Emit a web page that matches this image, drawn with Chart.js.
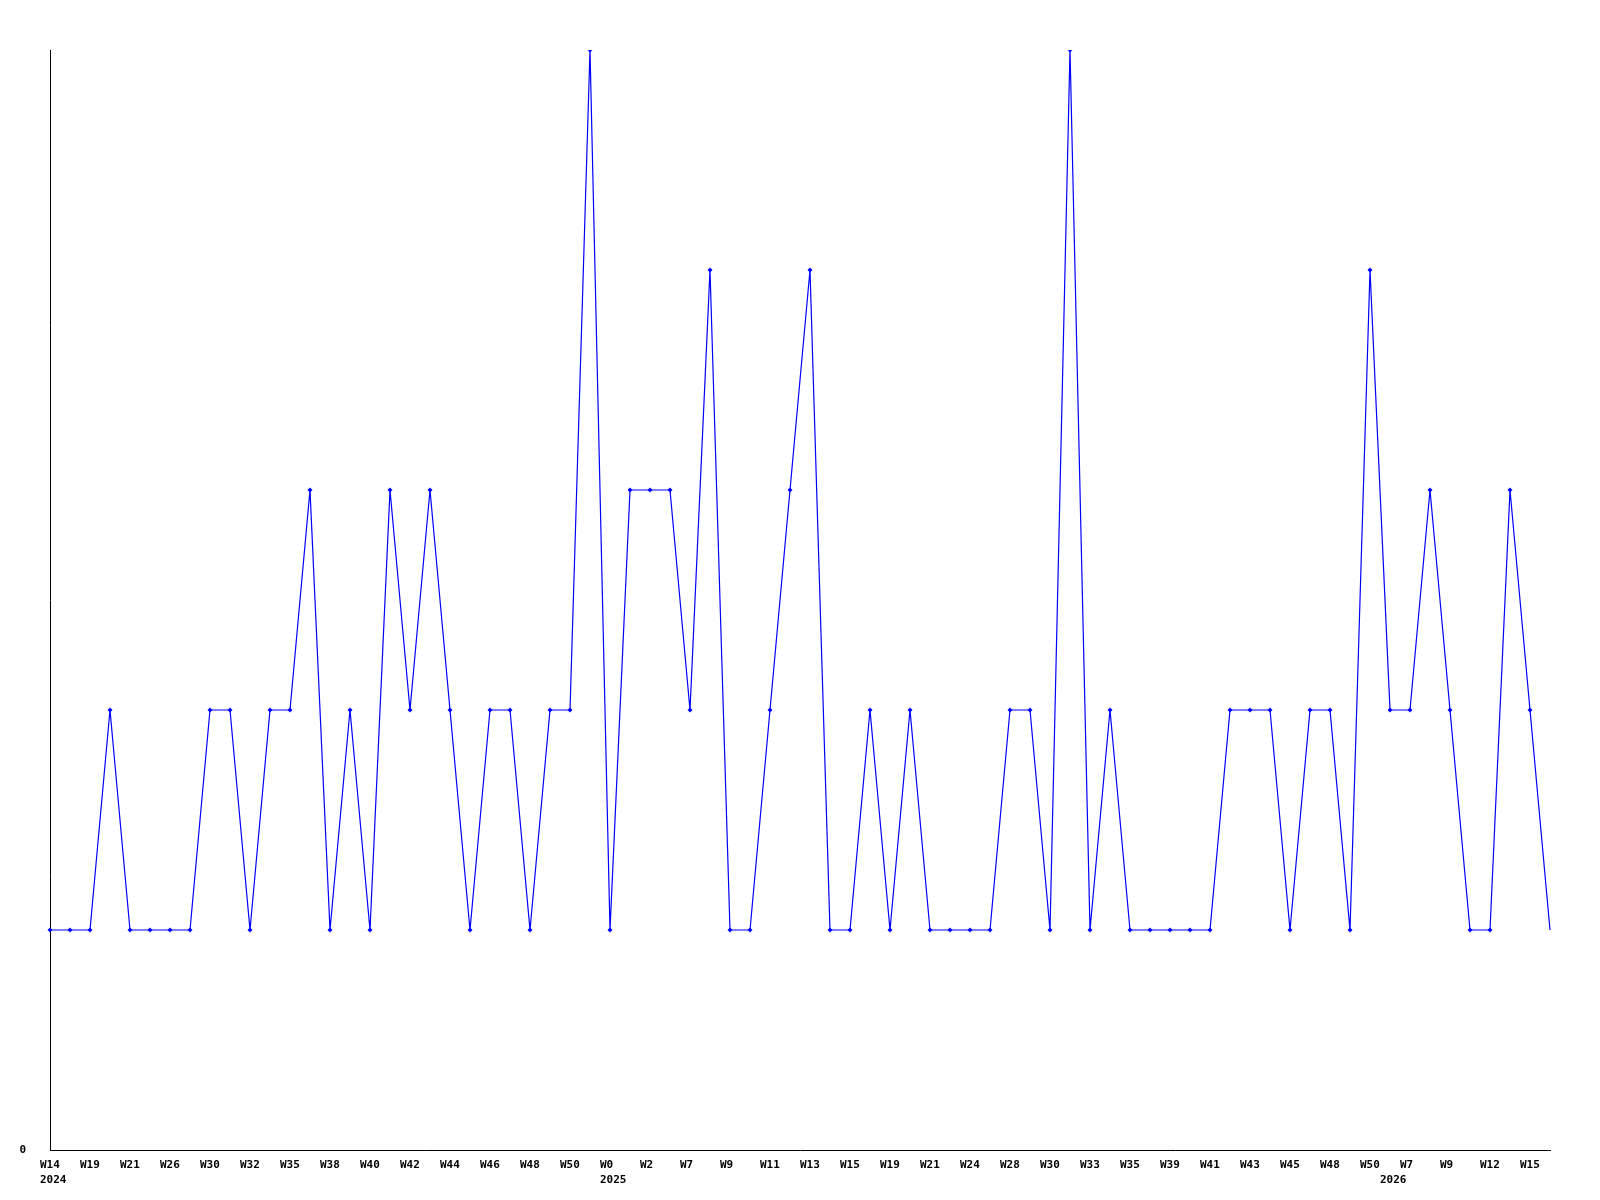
<!DOCTYPE html>
<html>
<head>
<meta charset="utf-8">
<title>Weekly count</title>
<script src="https://cdn.jsdelivr.net/npm/chart.js@4.4.0/dist/chart.umd.min.js"></script>
<style>
    body{ margin:0; background:#ffffff; }
    canvas{ display:block; }
</style>
</head>
<body>
<canvas id="myChart" width="1600" height="1200"></canvas>
<script>
    // week labels (only every second one is printed in the original, blanks unknown)
    const weeks = [
        'W14','','W19','','W21','','W26','','W30','','W32','','W35','','W38','','W40','','W42','',
        'W44','','W46','','W48','','W50','','W0','','W2','','W7','','W9','','W11','','W13','',
        'W15','','W19','','W21','','W24','','W28','','W30','','W33','','W35','','W39','','W41','',
        'W43','','W45','','W48','','W50','','W7','','W9','','W12','','W15',''
    ]
    const years = ['2024','2025','2026']
    const yearIndex = [0, 28, 67]

    const counts = [
        1,1,1,2,1,1,1,1,2,2, 1,2,2,3,1,2,1,3,2,3,
        2,1,2,2,1,2,2,5,1,3, 3,3,2,4,1,1,2,3,4,1,
        1,2,1,2,1,1,1,1,2,2, 1,5,1,2,1,1,1,1,1,2,
        2,2,1,2,2,1,4,2,2,3, 2,1,1,3,2,1
    ]

    const yMax = 5

    // last point has no marker in the original
    const radii = counts.map((v, i) => i == counts.length - 1 ? 0 : 2.5)

    const labels = weeks.map((w, i) => {
        let k = yearIndex.indexOf(i)
        return [w, k >= 0 ? years[k] : '']
    })

    const tickFont = { family: '"DejaVu Sans Mono", monospace', size: 11, weight: 'bold', lineHeight: 1.35 }

    const ctx = document.getElementById('myChart').getContext('2d')
    const mychart = new Chart(ctx, {
        type: 'line',
        data: {
            labels: labels,
            datasets: [{
                data: counts,
                borderColor: '#0000ff',
                backgroundColor: '#0000ff',
                borderWidth: 1.2,
                pointStyle: 'rectRot',
                pointRadius: radii,
                pointBorderWidth: 0,
                tension: 0
            }]
        },
        options: {
            responsive: false,
            animation: false,
            layout: { padding: { top: 50, right: 50, left: 0, bottom: 0 } },
            plugins: {
                legend: { display: false },
                tooltip: { enabled: false }
            },
            scales: {
                x: {
                    type: 'category',
                    offset: false,
                    grid: { display: false },
                    border: { display: true, color: '#000000', width: 1 },
                    ticks: {
                        autoSkip: false,
                        maxRotation: 0,
                        minRotation: 0,
                        align: 'start',
                        labelOffset: -10,
                        padding: 0,
                        color: '#000000',
                        font: tickFont
                    },
                    afterFit: function(scale){ scale.height = 50 }
                },
                y: {
                    min: 0,
                    max: yMax,
                    grid: { display: false },
                    border: { display: true, color: '#000000', width: 1 },
                    ticks: {
                        stepSize: 1,
                        padding: 16,
                        color: '#000000',
                        font: tickFont,
                        callback: function(v){ return v == 0 ? '0' : '' }
                    },
                    afterFit: function(scale){ scale.width = 50 }
                }
            }
        }
    })
</script>
</body>
</html>
